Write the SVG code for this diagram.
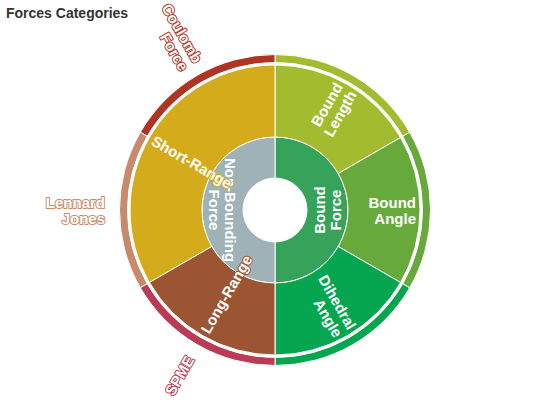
<svg xmlns="http://www.w3.org/2000/svg" width="550" height="420" viewBox="0 0 550 420">
<style>
.seg{stroke:#fff;stroke-width:1;stroke-linejoin:round}
.lbl{font-family:"Liberation Sans",Arial,Helvetica,sans-serif;font-size:15px;font-weight:bold;fill:#fff;stroke-width:2;paint-order:stroke;stroke-linejoin:round}
.title{font-family:"Liberation Sans",Arial,Helvetica,sans-serif;font-size:14px;font-weight:bold;fill:#333}
</style>
<rect width="550" height="420" fill="#fff"/>
<text class="title" x="6" y="18">Forces Categories</text>

<g id="connectors"></g>

<g id="node-bound-force">
<path class="seg" fill="#37a25a" d="M275,137 A73,73 0 0 1 275,283 L275,242 A32,32 0 0 0 275,178 Z"/>
<text class="lbl" stroke="#37a25a" text-anchor="middle" transform="translate(327.5,210) rotate(-90)"><tspan x="0" y="-2.5">Bound</tspan><tspan x="0" y="13.5">Force</tspan></text>
</g>
<g id="node-non-bounding-force">
<path class="seg" fill="#9eb2b8" d="M275,283 A73,73 0 0 1 275,137 L275,178 A32,32 0 0 0 275,242 Z"/>
<text class="lbl" stroke="#9eb2b8" text-anchor="middle" transform="translate(222.5,210) rotate(90)"><tspan x="0" y="-2.5">Non-Bounding</tspan><tspan x="0" y="13.5">Force</tspan></text>
</g>

<g id="node-bound-length">
<path class="seg" fill="#a3bc2f" d="M275,65 A145,145 0 0 1 400.57,137.5 L338.22,173.5 A73,73 0 0 0 275,137 Z"/>
<path class="seg" fill="#a3bc2f" d="M275,54.5 A155.5,155.5 0 0 1 409.67,132.25 L402.74,136.25 A147.5,147.5 0 0 0 275,62.5 Z"/>
<text class="lbl" stroke="#a3bc2f" text-anchor="end" transform="translate(345.5,87.9) rotate(-60)"><tspan x="0" y="-2.5">Bound</tspan><tspan x="0" y="13.5">Length</tspan></text>
</g>
<g id="node-bound-angle">
<path class="seg" fill="#67a93b" d="M400.57,137.5 A145,145 0 0 1 400.57,282.5 L338.22,246.5 A73,73 0 0 0 338.22,173.5 Z"/>
<path class="seg" fill="#67a93b" d="M409.67,132.25 A155.5,155.5 0 0 1 409.67,287.75 L402.74,283.75 A147.5,147.5 0 0 0 402.74,136.25 Z"/>
<text class="lbl" stroke="#67a93b" text-anchor="end" transform="translate(416,210)"><tspan x="0" y="-2.5">Bound</tspan><tspan x="0" y="13.5">Angle</tspan></text>
</g>
<g id="node-dihedral-angle">
<path class="seg" fill="#05a64f" d="M400.57,282.5 A145,145 0 0 1 275,355 L275,283 A73,73 0 0 0 338.22,246.5 Z"/>
<path class="seg" fill="#05a64f" d="M409.67,287.75 A155.5,155.5 0 0 1 275,365.5 L275,357.5 A147.5,147.5 0 0 0 402.74,283.75 Z"/>
<text class="lbl" stroke="#05a64f" text-anchor="end" transform="translate(345.5,332.1) rotate(60)"><tspan x="0" y="-2.5">Dihedral</tspan><tspan x="0" y="13.5">Angle</tspan></text>
</g>

<g id="node-short-range">
<path class="seg" fill="#d4ab1a" d="M149.43,282.5 A145,145 0 0 1 275,65 L275,137 A73,73 0 0 0 211.78,246.5 Z"/>
</g>
<g id="node-long-range">
<path class="seg" fill="#9c5532" d="M275,355 A145,145 0 0 1 149.43,282.5 L211.78,246.5 A73,73 0 0 0 275,283 Z"/>
</g>

<g id="node-coulomb-force">
<path class="seg" fill="#ae3424" d="M140.33,132.25 A155.5,155.5 0 0 1 275,54.5 L275,62.5 A147.5,147.5 0 0 0 147.26,136.25 Z"/>
<text class="lbl" stroke="#ae3424" text-anchor="end" transform="translate(191.5,65.4) rotate(60)"><tspan x="0" y="-2.5">Coulomb</tspan><tspan x="0" y="13.5">Force</tspan></text>
</g>
<g id="node-lennard-jones">
<path class="seg" fill="#c98a6b" d="M140.33,287.75 A155.5,155.5 0 0 1 140.33,132.25 L147.26,136.25 A147.5,147.5 0 0 0 147.26,283.75 Z"/>
<text class="lbl" stroke="#c98a6b" text-anchor="end" transform="translate(105,210)"><tspan x="0" y="-2.5">Lennard</tspan><tspan x="0" y="13.5">Jones</tspan></text>
</g>
<g id="node-spme">
<path class="seg" fill="#b93b55" d="M275,365.5 A155.5,155.5 0 0 1 140.33,287.75 L147.26,283.75 A147.5,147.5 0 0 0 275,357.5 Z"/>
<text class="lbl" stroke="#b93b55" text-anchor="end" transform="translate(190,357.2) rotate(-60)"><tspan x="0" y="5.5">SPME</tspan></text>
</g>

<g id="labels-level2">
<text class="lbl" stroke="#d4ab1a" text-anchor="start" transform="translate(152.9,139.5) rotate(30)"><tspan x="0" y="5.5">Short-Range</tspan></text>
<text class="lbl" stroke="#9c5532" text-anchor="start" transform="translate(204.5,332.1) rotate(-60)"><tspan x="0" y="5.5">Long-Range</tspan></text>
</g>
</svg>
